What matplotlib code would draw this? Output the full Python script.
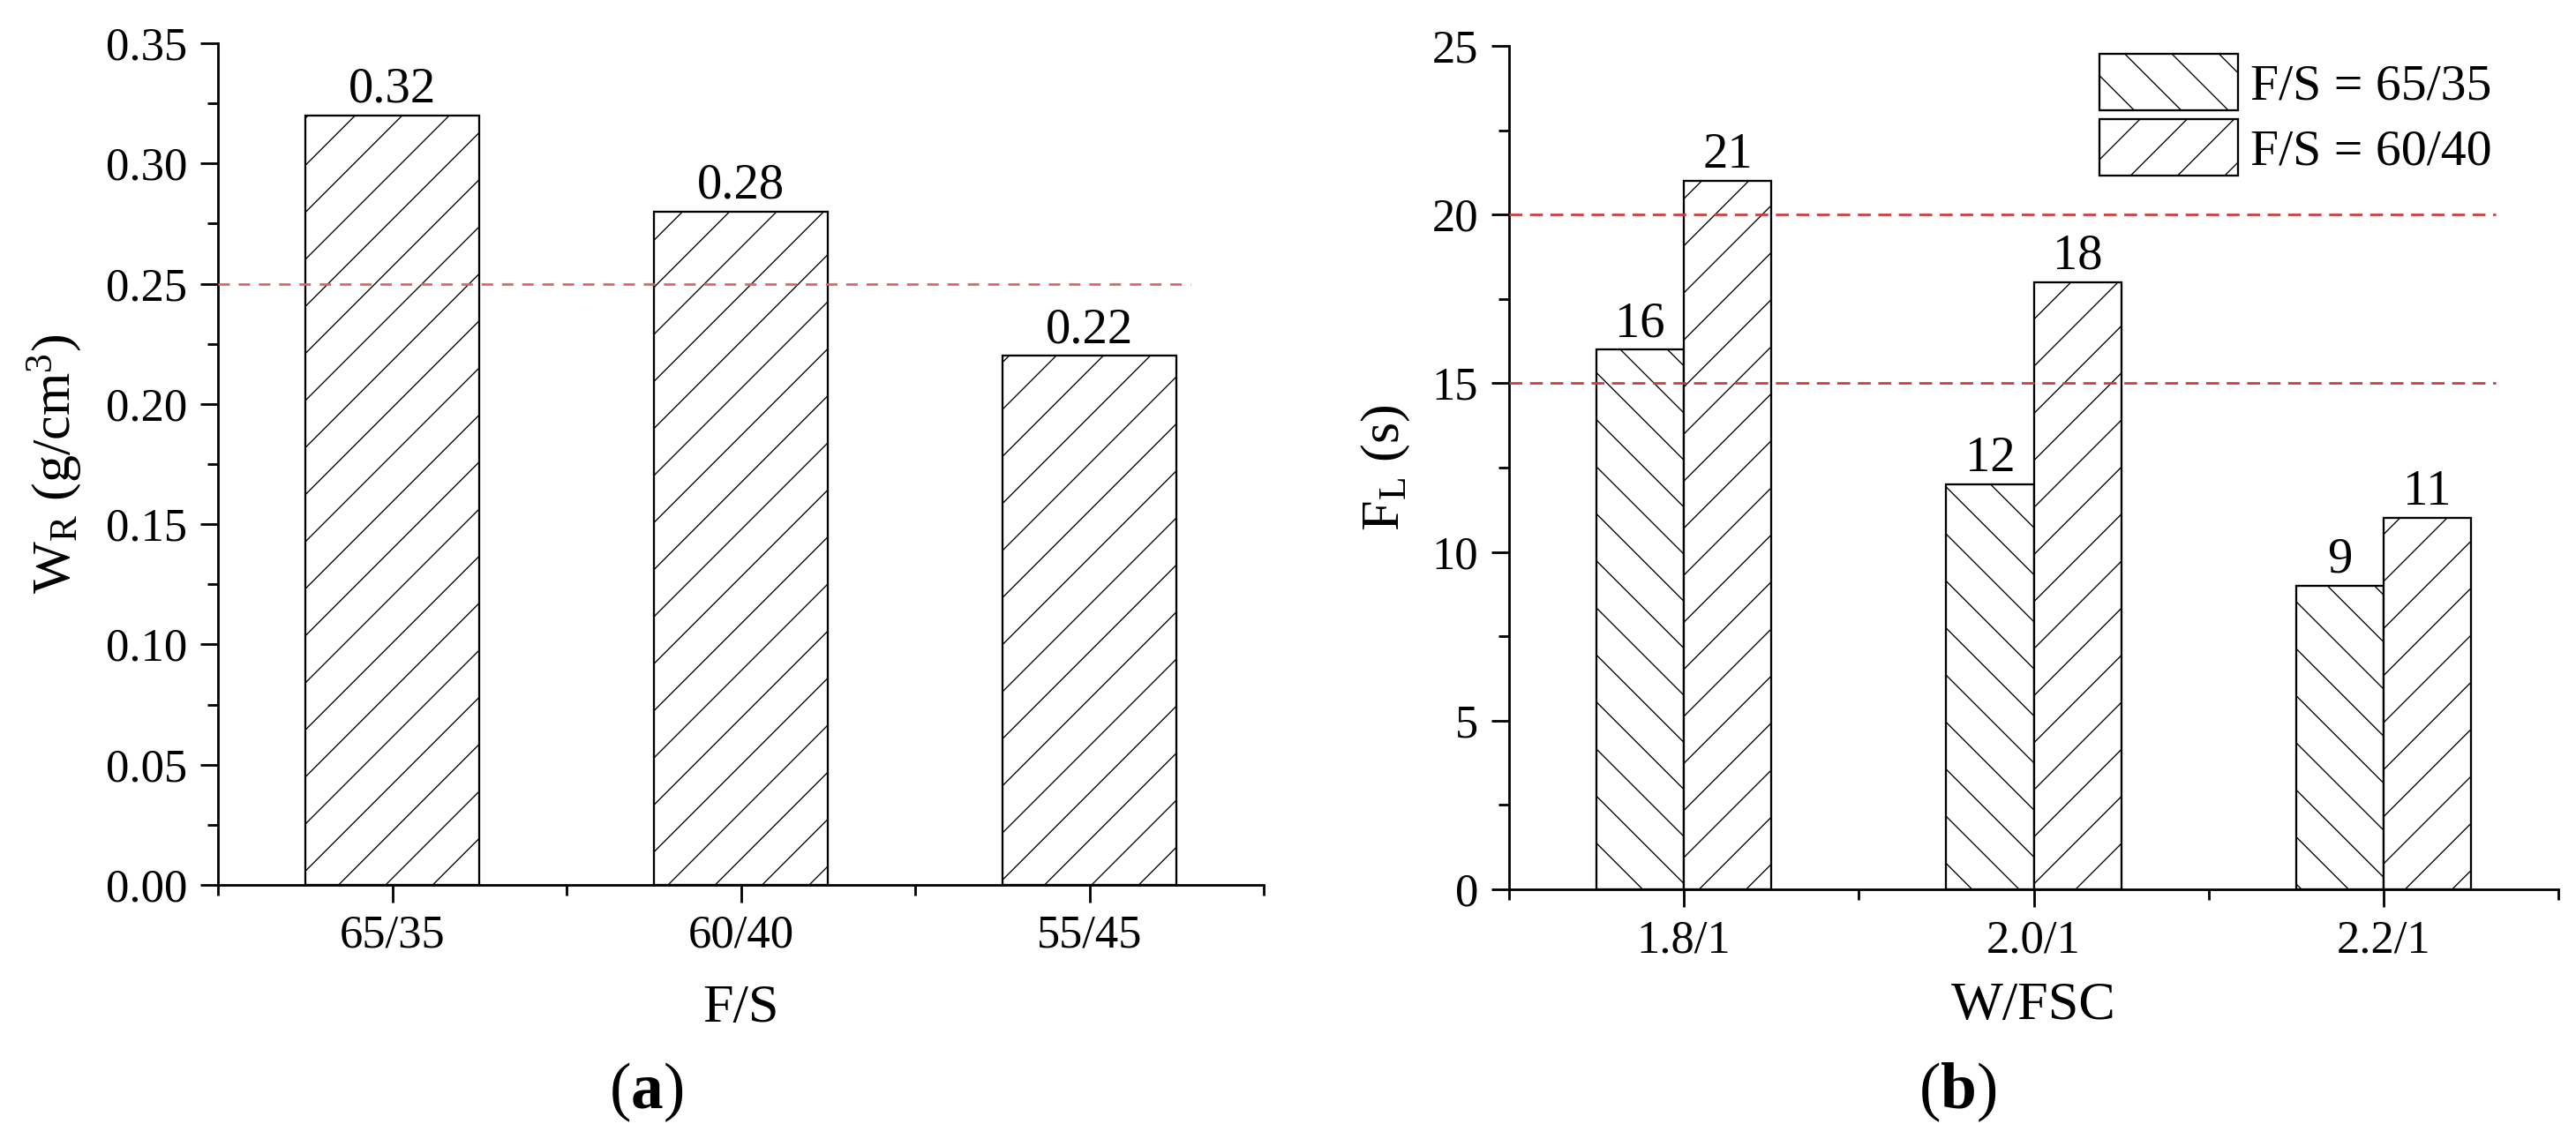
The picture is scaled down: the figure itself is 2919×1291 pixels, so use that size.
import matplotlib
matplotlib.use("Agg")
import matplotlib.pyplot as plt
from matplotlib.ticker import MultipleLocator, FormatStrFormatter

# ---------------- data ----------------
fs_categories = ["65/35", "60/40", "55/45"]
wr_values = [0.32, 0.28, 0.22]
wr_ticks = [0.00, 0.05, 0.10, 0.15, 0.20, 0.25, 0.30, 0.35]
wr_limit = [0.25]

wfsc_categories = ["1.8/1", "2.0/1", "2.2/1"]
fl_65_35 = [16, 12, 9]
fl_60_40 = [21, 18, 11]
series_labels = ["F/S = 65/35", "F/S = 60/40"]
fl_ticks = [0, 5, 10, 15, 20, 25]
fl_limits = [15, 20]

# ---------------- layout helpers ----------------
DPI = 160
W, H = 2919, 1291


def pt(px):
    return px * 72.0 / DPI


plt.rcParams.update({
    "font.family": ["Liberation Serif", "DejaVu Serif"],
    "mathtext.fontset": "custom",
    "mathtext.rm": "Liberation Serif",
    "mathtext.it": "Liberation Serif:italic",
    "mathtext.bf": "Liberation Serif:bold",
    "hatch.linewidth": 0.6,
    "hatch.color": "black",
})

TICK_FS = 23.7
LABEL_FS = 28.0
VALUE_FS = 25.5
LEGEND_FS = 26.0
PANEL_FS = 33.0
SPINE_LW = pt(2.8)
BAR_LW = pt(2.3)

fig = plt.figure(figsize=(W / DPI, H / DPI), dpi=DPI)
fig.patch.set_facecolor("white")

axA = fig.add_axes([247 / W, (H - 1003) / H, 1185 / W, 954 / H])
axB = fig.add_axes([1710 / W, (H - 1008) / H, 1189 / W, 956 / H])


def style(ax, ymax, yticks, yminor):
    for s in ("top", "right"):
        ax.spines[s].set_visible(False)
    for s in ("left", "bottom"):
        ax.spines[s].set_linewidth(SPINE_LW)
    ax.set_xlim(0.5, 3.5)
    ax.set_ylim(0, ymax)
    ax.set_xticks([1, 2, 3])
    ax.set_xticks([0.5, 1.5, 2.5, 3.5], minor=True)
    ax.set_yticks(yticks)
    ax.yaxis.set_minor_locator(MultipleLocator(yminor))
    ax.tick_params(which="major", direction="out", length=pt(20), width=SPINE_LW,
                   labelsize=TICK_FS)
    ax.tick_params(which="minor", direction="out", length=pt(12), width=SPINE_LW)
    ax.tick_params(axis="y", which="major", pad=pt(15))
    ax.tick_params(axis="x", which="major", pad=pt(14))


# ---------------- panel (a) ----------------
style(axA, 0.35, wr_ticks, 0.025)
axA.yaxis.set_major_formatter(FormatStrFormatter("%.2f"))
xA = [1, 2, 3]
barsA = axA.bar(xA, wr_values, width=0.5, color="white", edgecolor="black",
                linewidth=BAR_LW, hatch="/", zorder=2)
axA.set_xticklabels(fs_categories)
for x, v in zip(xA, wr_values):
    axA.annotate(f"{v:.2f}", xy=(x, v), xytext=(0, pt(15)), textcoords="offset points",
                 ha="center", va="baseline", fontsize=VALUE_FS)
axA.hlines(wr_limit, 0.5, 3.29, colors="#e06262", linewidth=pt(2.7),
           linestyles=[(0, (4.8, 3.7))], zorder=3)
axA.set_xlabel("F/S", fontsize=LABEL_FS)
axA.xaxis.label.set_va("center")
axA.xaxis.set_label_coords(0.5, -(1143 - 1003) / 954)
axA.set_ylabel(r"W$_\mathrm{R}$ (g/cm$^\mathrm{3}$)", fontsize=LABEL_FS)
axA.yaxis.label.set_va("center")
axA.yaxis.set_label_coords((62 - 247) / 1185, 0.5)

# ---------------- panel (b) ----------------
style(axB, 25, fl_ticks, 2.5)
xB = [1, 2, 3]
bw = 0.25
bars1 = axB.bar([x - bw / 2 for x in xB], fl_65_35, width=bw, color="white",
                edgecolor="black", linewidth=BAR_LW, hatch="\\", zorder=2,
                label=series_labels[0])
bars2 = axB.bar([x + bw / 2 for x in xB], fl_60_40, width=bw, color="white",
                edgecolor="black", linewidth=BAR_LW, hatch="/", zorder=2,
                label=series_labels[1])
axB.set_xticklabels(wfsc_categories)
for bars, vals in ((bars1, fl_65_35), (bars2, fl_60_40)):
    for r, v in zip(bars, vals):
        axB.annotate(f"{v:d}", xy=(r.get_x() + r.get_width() / 2, v), xytext=(0, pt(15)),
                     textcoords="offset points", ha="center", va="baseline",
                     fontsize=VALUE_FS)
axB.hlines(fl_limits, 0.5, 3.32, colors="#cc3a3a", linewidth=pt(2.7),
           linestyles=[(0, (5.4, 3.2))], zorder=3)
axB.set_xlabel("W/FSC", fontsize=LABEL_FS)
axB.xaxis.label.set_va("center")
axB.xaxis.set_label_coords(0.5, -(1140 - 1008) / 956)
axB.set_ylabel(r"F$_\mathrm{L}$ (s)", fontsize=LABEL_FS)
axB.yaxis.label.set_va("center")
axB.yaxis.set_label_coords((1570 - 1710) / 1189, 0.5)

em = 58.0
axB.legend(handles=[bars1, bars2], labels=series_labels, loc="upper left",
           bbox_to_anchor=(2379 / W, 1 - 61 / H), bbox_transform=fig.transFigure,
           frameon=False, fontsize=LEGEND_FS, handlelength=158 / em,
           handleheight=77 / em, labelspacing=10 / em, handletextpad=14 / em,
           borderpad=0, borderaxespad=0)

# ---------------- panel letters ----------------
fig.text(732 / W, 1 - 1238 / H, r"($\mathbf{a}$)", ha="center", va="center", fontsize=PANEL_FS)
fig.text(2218 / W, 1 - 1238 / H, r"($\mathbf{b}$)", ha="center", va="center", fontsize=PANEL_FS)

fig.savefig("out.png", dpi=DPI, facecolor="white")
